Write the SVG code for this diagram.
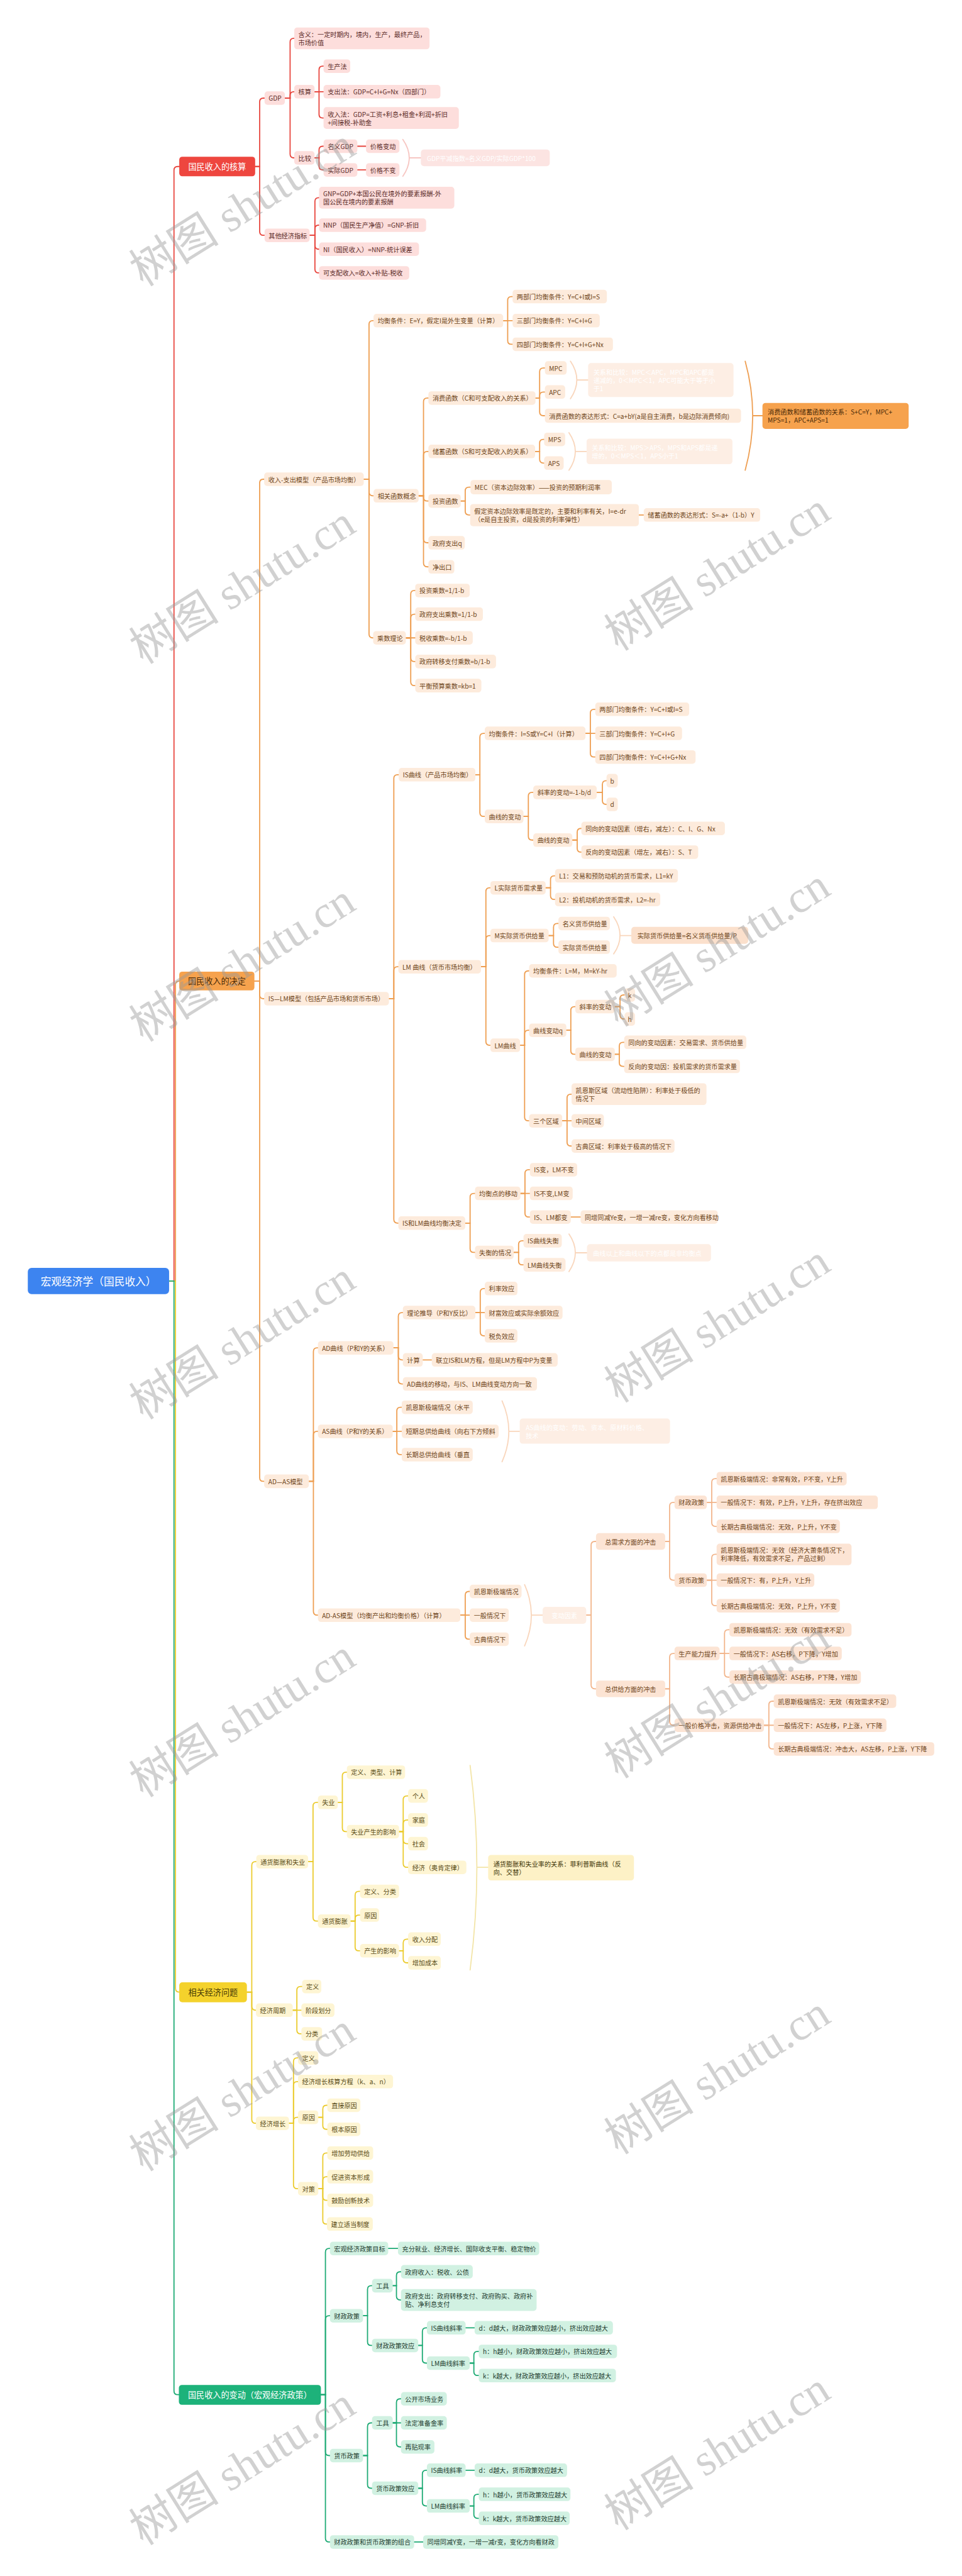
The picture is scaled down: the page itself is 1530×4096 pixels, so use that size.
<svg xmlns="http://www.w3.org/2000/svg" width="1530" height="4096" viewBox="0 0 1530 4096">
<style>
text{font-family:"Noto Sans CJK SC","Noto Sans",sans-serif;font-size:17px;dominant-baseline:central}
.c path{fill:none;stroke-width:3;stroke-linecap:round}
.lr{stroke:#E8463E}.lo{stroke:#EE9E51}.lo2{stroke:#F2B58B}.ly{stroke:#EBCB2E}.lg{stroke:#1DAA74}
.br{stroke:#F7C6C2}.bo{stroke:#F9D6BC}.by{stroke:#F3E5A8}
.r rect{fill:#FDDEDC}.r text{fill:#5B2B28}
.o rect{fill:#FDEBDC}.o text{fill:#6E4519}
.p rect{fill:#FCE4D4}.p text{fill:#6E4519}
.y rect{fill:#FEF5D3}.y text{fill:#5A4C16}
.g rect{fill:#D1F1E2}.g text{fill:#1E3D30}
.fr rect{fill:#FCE4E2}.fo rect{fill:#FDEEE4}.fr text,.fo text{fill:#fff}
.l1 text{font-size:22px}
.root text{font-size:28px;fill:#fff}
.wm text{font-family:"Liberation Serif","Noto Sans CJK SC",serif;font-size:120px;fill:#9a9a9a;opacity:.45}
</style>
<rect width="1530" height="4096" fill="#fff"/>
<g transform="scale(0.59766)">
<g id="connectors" class="c">
<path class="lr" d="M450 3408H463V453Q463 443 473 443H477"/>
<path class="lo" d="M450 3408H467V2620Q467 2610 477 2610"/>
<path class="ly" d="M450 3408H467V5290Q467 5300 477 5300"/>
<path class="lg" d="M450 3408H463V6361Q463 6371 473 6371H476"/>
<path class="lr" d="M679 443H691V271Q691 261 701 261H704"/>
<path class="lr" d="M679 443H691V616Q691 626 701 626H704"/>
<path class="lr" d="M758 261H772V112Q772 102 782 102H783"/>
<path class="lr" d="M758 261H772V254Q772 244 782 244H783"/>
<path class="lr" d="M758 261H772V410Q772 420 782 420H783"/>
<path class="lr" d="M837 244H849V186Q849 176 859 176H861"/>
<path class="lr" d="M837 244H861"/>
<path class="lr" d="M837 244H849V304Q849 314 859 314H861"/>
<path class="lr" d="M837 420H849V399Q849 389 859 389H861"/>
<path class="lr" d="M837 420H849V442Q849 452 859 452H861"/>
<path class="lr" d="M951 389H974"/>
<path class="lr" d="M951 452H974"/>
<path class="br" d="M1072 371Q1106 420 1072 469M1089 420H1120"/>
<path class="lr" d="M824 626H838V536Q838 526 848 526H849"/>
<path class="lr" d="M824 626H838V609Q838 599 848 599H849"/>
<path class="lr" d="M824 626H838V653Q838 663 848 663H849"/>
<path class="lr" d="M824 626H838V716Q838 726 848 726H849"/>
<path class="lo" d="M677 2610H691V1285Q691 1275 701 1275H703"/>
<path class="lo" d="M677 2610H691V2647Q691 2657 701 2657H703"/>
<path class="lo" d="M677 2610H691V3931Q691 3941 701 3941H703"/>
<path class="lo" d="M968 1275H982V863Q982 853 992 853H994"/>
<path class="lo" d="M968 1275H982V1309Q982 1319 992 1319H994"/>
<path class="lo" d="M968 1275H982V1687Q982 1697 992 1697H993"/>
<path class="lo" d="M1339 853H1351V799Q1351 789 1361 789H1364"/>
<path class="lo" d="M1339 853H1364"/>
<path class="lo" d="M1339 853H1351V906Q1351 916 1361 916H1364"/>
<path class="lo" d="M1114 1319H1127V1069Q1127 1059 1137 1059H1140"/>
<path class="lo" d="M1114 1319H1127V1211Q1127 1201 1137 1201H1140"/>
<path class="lo" d="M1114 1319H1127V1323Q1127 1333 1137 1333H1140"/>
<path class="lo" d="M1114 1319H1127V1434Q1127 1444 1137 1444H1140"/>
<path class="lo" d="M1114 1319H1127V1498Q1127 1508 1137 1508H1140"/>
<path class="lo" d="M1425 1059H1436V989Q1436 979 1446 979H1450"/>
<path class="lo" d="M1425 1059H1436V1053Q1436 1043 1446 1043H1450"/>
<path class="lo" d="M1425 1059H1436V1096Q1436 1106 1446 1106H1450"/>
<path class="bo" d="M1518 961Q1552 1011 1518 1061M1535 1011H1565"/>
<path class="lo" d="M1424 1201H1436V1179Q1436 1169 1446 1169H1448"/>
<path class="lo" d="M1424 1201H1436V1222Q1436 1232 1446 1232H1448"/>
<path class="bo" d="M1514 1151Q1548 1201 1514 1251M1531 1201H1561"/>
<path class="lo" d="M1983 961Q2023 1106 1983 1251M2003 1106H2029"/>
<path class="lo" d="M1226 1333H1238V1306Q1238 1296 1248 1296H1252"/>
<path class="lo" d="M1226 1333H1238V1360Q1238 1370 1248 1370H1251"/>
<path class="lo" d="M1700 1370H1713"/>
<path class="lo" d="M1080 1697H1093V1581Q1093 1571 1103 1571H1105"/>
<path class="lo" d="M1080 1697H1093V1644Q1093 1634 1103 1634H1105"/>
<path class="lo" d="M1080 1697H1105"/>
<path class="lo" d="M1080 1697H1093V1750Q1093 1760 1103 1760H1105"/>
<path class="lo" d="M1080 1697H1093V1814Q1093 1824 1103 1824H1105"/>
<path class="lo" d="M1035 2657H1048V2071Q1048 2061 1058 2061H1061"/>
<path class="lo" d="M1035 2657H1048V2582Q1048 2572 1058 2572H1060"/>
<path class="lo" d="M1035 2657H1048V3244Q1048 3254 1058 3254H1060"/>
<path class="lo" d="M1265 2061H1277V1961Q1277 1951 1287 1951H1290"/>
<path class="lo" d="M1265 2061H1277V2162Q1277 2172 1287 2172H1290"/>
<path class="lo" d="M1558 1951H1571V1897Q1571 1887 1581 1887H1584"/>
<path class="lo" d="M1558 1951H1584"/>
<path class="lo" d="M1558 1951H1571V2004Q1571 2014 1581 2014H1584"/>
<path class="lo" d="M1393 2172H1406V2118Q1406 2108 1416 2108H1419"/>
<path class="lo" d="M1393 2172H1406V2225Q1406 2235 1416 2235H1419"/>
<path class="lo" d="M1588 2108H1603V2087Q1603 2077 1613 2077H1614"/>
<path class="lo" d="M1588 2108H1603V2130Q1603 2140 1613 2140H1614"/>
<path class="lo" d="M1523 2235H1536V2214Q1536 2204 1546 2204H1547"/>
<path class="lo" d="M1523 2235H1536V2257Q1536 2267 1546 2267H1547"/>
<path class="lo" d="M1280 2572H1293V2372Q1293 2362 1303 2362H1305"/>
<path class="lo" d="M1280 2572H1293V2499Q1293 2489 1303 2489H1305"/>
<path class="lo" d="M1280 2572H1293V2771Q1293 2781 1303 2781H1305"/>
<path class="lo" d="M1452 2362H1465V2340Q1465 2330 1475 2330H1477"/>
<path class="lo" d="M1452 2362H1465V2383Q1465 2393 1475 2393H1477"/>
<path class="lo" d="M1460 2489H1473V2467Q1473 2457 1483 2457H1486"/>
<path class="lo" d="M1460 2489H1473V2510Q1473 2520 1483 2520H1486"/>
<path class="bo" d="M1633 2439Q1667 2489 1633 2538M1650 2489H1680"/>
<path class="lo" d="M1384 2781H1396V2593Q1396 2583 1406 2583H1408"/>
<path class="lo" d="M1384 2781H1396V2751Q1396 2741 1406 2741H1408"/>
<path class="lo" d="M1384 2781H1396V2972Q1396 2982 1406 2982H1408"/>
<path class="lo" d="M1507 2741H1519V2688Q1519 2678 1529 2678H1531"/>
<path class="lo" d="M1507 2741H1519V2795Q1519 2805 1529 2805H1531"/>
<path class="lo" d="M1636 2678H1650V2657Q1650 2647 1660 2647H1662"/>
<path class="lo" d="M1636 2678H1650V2701Q1650 2711 1660 2711H1662"/>
<path class="lo" d="M1636 2805H1648V2783Q1648 2773 1658 2773H1661"/>
<path class="lo" d="M1636 2805H1648V2827Q1648 2837 1658 2837H1661"/>
<path class="lo" d="M1496 2982H1509V2921Q1509 2911 1519 2911H1521"/>
<path class="lo" d="M1496 2982H1521"/>
<path class="lo" d="M1496 2982H1509V3039Q1509 3049 1519 3049H1521"/>
<path class="lo" d="M1238 3254H1251V3185Q1251 3175 1261 3175H1264"/>
<path class="lo" d="M1238 3254H1251V3322Q1251 3332 1261 3332H1264"/>
<path class="lo" d="M1385 3175H1397V3122Q1397 3112 1407 3112H1410"/>
<path class="lo" d="M1385 3175H1410"/>
<path class="lo" d="M1385 3175H1397V3228Q1397 3238 1407 3238H1410"/>
<path class="lo" d="M1519 3238H1545"/>
<path class="lo" d="M1367 3332H1380V3311Q1380 3301 1390 3301H1393"/>
<path class="lo" d="M1367 3332H1380V3355Q1380 3365 1390 3365H1393"/>
<path class="bo" d="M1514 3283Q1548 3333 1514 3383M1531 3333H1562"/>
<path class="lo" d="M822 3941H834V3596Q834 3586 844 3586H846"/>
<path class="lo" d="M822 3941H834V3818Q834 3808 844 3808H846"/>
<path class="lo" d="M822 3941H834V4287Q834 4297 844 4297H846"/>
<path class="lo" d="M1047 3586H1060V3502Q1060 3492 1070 3492H1072"/>
<path class="lo" d="M1047 3586H1060V3608Q1060 3618 1070 3618H1072"/>
<path class="lo" d="M1047 3586H1060V3672Q1060 3682 1070 3682H1072"/>
<path class="lo" d="M1265 3492H1278V3438Q1278 3428 1288 3428H1290"/>
<path class="lo" d="M1265 3492H1290"/>
<path class="lo" d="M1265 3492H1278V3544Q1278 3554 1288 3554H1290"/>
<path class="lo" d="M1125 3618H1149"/>
<path class="lo" d="M1045 3808H1056V3754Q1056 3744 1066 3744H1069"/>
<path class="lo" d="M1045 3808H1069"/>
<path class="lo" d="M1045 3808H1056V3860Q1056 3870 1066 3870H1069"/>
<path class="bo" d="M1336 3727Q1372 3808 1336 3889M1354 3808H1383"/>
<path class="lo" d="M1225 4297H1238V4244Q1238 4234 1248 4234H1250"/>
<path class="lo" d="M1225 4297H1250"/>
<path class="lo" d="M1225 4297H1238V4351Q1238 4361 1248 4361H1250"/>
<path class="bo" d="M1396 4216Q1432 4297 1396 4379M1414 4297H1444"/>
<path class="lo2" d="M1560 4297H1573V4111Q1573 4101 1583 4101H1586"/>
<path class="lo2" d="M1560 4297H1573V4483Q1573 4493 1583 4493H1586"/>
<path class="lo2" d="M1770 4101H1782V4007Q1782 3997 1792 3997H1795"/>
<path class="lo2" d="M1770 4101H1782V4194Q1782 4204 1792 4204H1795"/>
<path class="lo2" d="M1881 3997H1894V3944Q1894 3934 1904 3934H1907"/>
<path class="lo2" d="M1881 3997H1907"/>
<path class="lo2" d="M1881 3997H1894V4051Q1894 4061 1904 4061H1907"/>
<path class="lo2" d="M1881 4204H1894V4145Q1894 4135 1904 4135H1907"/>
<path class="lo2" d="M1881 4204H1907"/>
<path class="lo2" d="M1881 4204H1894V4262Q1894 4272 1904 4272H1907"/>
<path class="lo2" d="M1770 4493H1782V4409Q1782 4399 1792 4399H1795"/>
<path class="lo2" d="M1770 4493H1782V4580Q1782 4590 1792 4590H1795"/>
<path class="lo2" d="M1915 4399H1928V4346Q1928 4336 1938 4336H1941"/>
<path class="lo2" d="M1915 4399H1941"/>
<path class="lo2" d="M1915 4399H1928V4452Q1928 4462 1938 4462H1941"/>
<path class="lo2" d="M2033 4590H2046V4536Q2046 4526 2056 4526H2059"/>
<path class="lo2" d="M2033 4590H2059"/>
<path class="lo2" d="M2033 4590H2046V4643Q2046 4653 2056 4653H2059"/>
<path class="ly" d="M657 5300H670V4963Q670 4953 680 4953H682"/>
<path class="ly" d="M657 5300H670V5338Q670 5348 680 5348H681"/>
<path class="ly" d="M657 5300H670V5639Q670 5649 680 5649H681"/>
<path class="ly" d="M820 4953H833V4805Q833 4795 843 4795H846"/>
<path class="ly" d="M820 4953H833V5101Q833 5111 843 5111H846"/>
<path class="ly" d="M899 4795H911V4725Q911 4715 921 4715H923"/>
<path class="ly" d="M899 4795H911V4863Q911 4873 921 4873H923"/>
<path class="ly" d="M1062 4873H1073V4788Q1073 4778 1083 4778H1086"/>
<path class="ly" d="M1062 4873H1073V4852Q1073 4842 1083 4842H1086"/>
<path class="ly" d="M1062 4873H1073V4895Q1073 4905 1083 4905H1086"/>
<path class="ly" d="M1062 4873H1073V4958Q1073 4968 1083 4968H1086"/>
<path class="ly" d="M933 5111H945V5042Q945 5032 955 5032H958"/>
<path class="ly" d="M933 5111H945V5105Q945 5095 955 5095H958"/>
<path class="ly" d="M933 5111H945V5180Q945 5190 955 5190H958"/>
<path class="ly" d="M1062 5190H1073V5169Q1073 5159 1083 5159H1086"/>
<path class="ly" d="M1062 5190H1073V5212Q1073 5222 1083 5222H1086"/>
<path class="by" d="M1251 4697Q1287 4968 1251 5241M1269 4968H1299"/>
<path class="ly" d="M779 5348H790V5295Q790 5285 800 5285H804"/>
<path class="ly" d="M779 5348H802"/>
<path class="ly" d="M779 5348H790V5401Q790 5411 800 5411H802"/>
<path class="ly" d="M769 5649H781V5485Q781 5475 791 5475H793"/>
<path class="ly" d="M769 5649H781V5548Q781 5538 791 5538H793"/>
<path class="ly" d="M769 5649H781V5643Q781 5633 791 5633H793"/>
<path class="ly" d="M769 5649H781V5813Q781 5823 791 5823H793"/>
<path class="ly" d="M847 5633H859V5611Q859 5601 869 5601H871"/>
<path class="ly" d="M847 5633H859V5655Q859 5665 869 5665H871"/>
<path class="ly" d="M847 5823H859V5738Q859 5728 869 5728H871"/>
<path class="ly" d="M847 5823H859V5801Q859 5791 869 5791H871"/>
<path class="ly" d="M847 5823H859V5844Q859 5854 869 5854H871"/>
<path class="ly" d="M847 5823H859V5907Q859 5917 869 5917H870"/>
<path class="lg" d="M854 6371H866V5992Q866 5982 876 5982H878"/>
<path class="lg" d="M854 6371H866V6171Q866 6161 876 6161H878"/>
<path class="lg" d="M854 6371H866V6523Q866 6533 876 6533H878"/>
<path class="lg" d="M854 6371H866V6753Q866 6763 876 6763H878"/>
<path class="lg" d="M1033 5982H1059"/>
<path class="lg" d="M966 6161H978V6091Q978 6081 988 6081H990"/>
<path class="lg" d="M966 6161H978V6230Q978 6240 988 6240H990"/>
<path class="lg" d="M1045 6081H1055V6054Q1055 6044 1065 6044H1067"/>
<path class="lg" d="M1045 6081H1055V6109Q1055 6119 1065 6119H1067"/>
<path class="lg" d="M1113 6240H1124V6203Q1124 6193 1134 6193H1136"/>
<path class="lg" d="M1113 6240H1124V6277Q1124 6287 1134 6287H1136"/>
<path class="lg" d="M1239 6193H1263"/>
<path class="lg" d="M1250 6287H1261V6266Q1261 6256 1271 6256H1274"/>
<path class="lg" d="M1250 6287H1261V6310Q1261 6320 1271 6320H1274"/>
<path class="lg" d="M966 6533H978V6456Q978 6446 988 6446H990"/>
<path class="lg" d="M966 6533H978V6610Q978 6620 988 6620H990"/>
<path class="lg" d="M1045 6446H1055V6392Q1055 6382 1065 6382H1067"/>
<path class="lg" d="M1045 6446H1067"/>
<path class="lg" d="M1045 6446H1055V6500Q1055 6510 1065 6510H1067"/>
<path class="lg" d="M1113 6620H1124V6582Q1124 6572 1134 6572H1136"/>
<path class="lg" d="M1113 6620H1124V6657Q1124 6667 1134 6667H1136"/>
<path class="lg" d="M1239 6572H1263"/>
<path class="lg" d="M1250 6667H1261V6646Q1261 6636 1271 6636H1274"/>
<path class="lg" d="M1250 6667H1261V6690Q1261 6700 1271 6700H1274"/>
<path class="lg" d="M1102 6763H1126"/>
</g>

<g id="n-root" class="root"><rect x="74" y="3373" width="376" height="70" rx="10" fill="#3D84F0"/><text x="262" y="3408" text-anchor="middle">宏观经济学（国民收入）</text></g>

<g id="n-s1" class="l1"><rect x="477" y="417" width="202" height="52" rx="8" fill="#EE463F"/><text x="578" y="443" text-anchor="middle" fill="#fff">国民收入的核算</text></g>
<g id="n-gdp" class="r"><rect x="704" y="243" width="54" height="36" rx="8"/><text x="715" y="261">GDP</text></g>
<g id="n-other" class="r"><rect x="704" y="608" width="120" height="36" rx="8"/><text x="715" y="626">其他经济指标</text></g>
<g id="n-hanyi" class="r"><rect x="783" y="73" width="360" height="58" rx="8"/><text x="794" y="91">含义：一定时期内，境内，生产，最终产品，</text><text x="794" y="113">市场价值</text></g>
<g id="n-hesuan" class="r"><rect x="783" y="226" width="54" height="36" rx="8"/><text x="794" y="244">核算</text></g>
<g id="n-bijiao" class="r"><rect x="783" y="402" width="54" height="36" rx="8"/><text x="794" y="420">比较</text></g>
<g id="n-scf" class="r"><rect x="861" y="158" width="71" height="36" rx="8"/><text x="872" y="176">生产法</text></g>
<g id="n-zcf" class="r"><rect x="861" y="226" width="311" height="36" rx="8"/><text x="872" y="244">支出法：GDP=C+I+G=Nx（四部门）</text></g>
<g id="n-srf" class="r"><rect x="861" y="285" width="360" height="58" rx="8"/><text x="872" y="303">收入法：GDP=工资+利息+租金+利润+折旧</text><text x="872" y="325">+间接税-补助金</text></g>
<g id="n-mygdp" class="r"><rect x="861" y="371" width="90" height="36" rx="8"/><text x="872" y="389">名义GDP</text></g>
<g id="n-sjgdp" class="r"><rect x="861" y="434" width="90" height="36" rx="8"/><text x="872" y="452">实际GDP</text></g>
<g id="n-jgbd" class="r"><rect x="974" y="371" width="89" height="36" rx="8"/><text x="985" y="389">价格变动</text></g>
<g id="n-jgbb" class="r"><rect x="974" y="434" width="89" height="36" rx="8"/><text x="985" y="452">价格不变</text></g>
<g id="n-gdppj" class="fr"><rect x="1120" y="398" width="343" height="44" rx="8"/><text x="1136" y="420">GDP平减指数=名义GDP/实际GDP*100</text></g>
<g id="n-gnp" class="r"><rect x="849" y="497" width="360" height="58" rx="8"/><text x="860" y="515">GNP=GDP+本国公民在境外的要素报酬-外</text><text x="860" y="537">国公民在境内的要素报酬</text></g>
<g id="n-nnp" class="r"><rect x="849" y="581" width="285" height="36" rx="8"/><text x="860" y="599">NNP（国民生产净值）=GNP-折旧</text></g>
<g id="n-ni" class="r"><rect x="849" y="645" width="266" height="36" rx="8"/><text x="860" y="663">NI（国民收入）=NNP-统计误差</text></g>
<g id="n-kzp" class="r"><rect x="849" y="708" width="240" height="36" rx="8"/><text x="860" y="726">可支配收入=收入+补贴-税收</text></g>

<g id="n-s2" class="l1"><rect x="477" y="2585" width="200" height="50" rx="8" fill="#F6A24D"/><text x="577" y="2610" text-anchor="middle" fill="#4A2A08">国民收入的决定</text></g>
<g id="n-srzc" class="o"><rect x="703" y="1257" width="265" height="36" rx="8"/><text x="714" y="1275">收入-支出模型（产品市场均衡）</text></g>
<g id="n-islm" class="o"><rect x="703" y="2639" width="332" height="36" rx="8"/><text x="714" y="2657">IS—LM模型（包括产品市场和货币市场）</text></g>
<g id="n-adas" class="o"><rect x="703" y="3923" width="119" height="36" rx="8"/><text x="714" y="3941">AD—AS模型</text></g>
<g id="n-jhtj" class="o"><rect x="994" y="835" width="345" height="36" rx="8"/><text x="1005" y="853">均衡条件：E=Y，假定I是外生变量（计算）</text></g>
<g id="n-xghs" class="o"><rect x="994" y="1301" width="120" height="36" rx="8"/><text x="1005" y="1319">相关函数概念</text></g>
<g id="n-csll" class="o"><rect x="993" y="1679" width="87" height="36" rx="8"/><text x="1004" y="1697">乘数理论</text></g>
<g id="n-lbm" class="o"><rect x="1364" y="771" width="251" height="36" rx="8"/><text x="1375" y="789">两部门均衡条件：Y=C+I或I=S</text></g>
<g id="n-sbm" class="o"><rect x="1364" y="835" width="232" height="36" rx="8"/><text x="1375" y="853">三部门均衡条件：Y=C+I+G</text></g>
<g id="n-sibm" class="o"><rect x="1364" y="898" width="267" height="36" rx="8"/><text x="1375" y="916">四部门均衡条件：Y=C+I+G+Nx</text></g>
<g id="n-xfhs" class="o"><rect x="1140" y="1041" width="285" height="36" rx="8"/><text x="1151" y="1059">消费函数（C和可支配收入的关系）</text></g>
<g id="n-cxhs" class="o"><rect x="1140" y="1183" width="284" height="36" rx="8"/><text x="1151" y="1201">储蓄函数（S和可支配收入的关系）</text></g>
<g id="n-tzhs" class="o"><rect x="1140" y="1315" width="86" height="36" rx="8"/><text x="1151" y="1333">投资函数</text></g>
<g id="n-zfzc" class="o"><rect x="1140" y="1426" width="97" height="36" rx="8"/><text x="1151" y="1444">政府支出q</text></g>
<g id="n-jck" class="o"><rect x="1140" y="1490" width="69" height="36" rx="8"/><text x="1151" y="1508">净出口</text></g>
<g id="n-mpc" class="o"><rect x="1450" y="961" width="58" height="36" rx="8"/><text x="1479" y="979" text-anchor="middle">MPC</text></g>
<g id="n-apc" class="o"><rect x="1450" y="1025" width="54" height="36" rx="8"/><text x="1477" y="1043" text-anchor="middle">APC</text></g>
<g id="n-xfbd" class="o"><rect x="1450" y="1087" width="522" height="38" rx="8"/><text x="1461" y="1106">消费函数的表达形式：C=a+bY(a是自主消费，b是边际消费倾向)</text></g>
<g id="n-gx1" class="fo"><rect x="1565" y="966" width="387" height="90" rx="8"/><text x="1579" y="989">关系和比较：MPC＜APC，MPC和APC都是</text><text x="1579" y="1011">递减的，0＜MPC＜1，APC可能大于等于小</text><text x="1579" y="1033">于1</text></g>
<g id="n-mps" class="o"><rect x="1448" y="1151" width="56" height="36" rx="8"/><text x="1476" y="1169" text-anchor="middle">MPS</text></g>
<g id="n-aps" class="o"><rect x="1448" y="1214" width="52" height="36" rx="8"/><text x="1474" y="1232" text-anchor="middle">APS</text></g>
<g id="n-gx2" class="fo"><rect x="1561" y="1167" width="388" height="68" rx="8"/><text x="1575" y="1190">关系和比较：MPS＞APS，MPS和APS都是递</text><text x="1575" y="1212">增的，0＜MPS＜1，APS小于1</text></g>
<g id="n-xfcx"><rect x="2029" y="1072" width="389" height="69" rx="8" fill="#F6A24D"/><text x="2043" y="1095" fill="#4A2A08">消费函数和储蓄函数的关系：S+C=Y，MPC+</text><text x="2043" y="1117" fill="#4A2A08">MPS=1，APC+APS=1</text></g>
<g id="n-mec" class="o"><rect x="1252" y="1277" width="376" height="38" rx="8"/><text x="1263" y="1296">MEC（资本边际效率）——投资的预期利润率</text></g>
<g id="n-jdzb" class="o"><rect x="1251" y="1341" width="449" height="59" rx="8"/><text x="1262" y="1359">假定资本边际效率是既定的，主要和利率有关，I=e-dr</text><text x="1262" y="1381">（e是自主投资，d是投资的利率弹性）</text></g>
<g id="n-cxbd" class="o"><rect x="1713" y="1352" width="310" height="36" rx="8"/><text x="1724" y="1370">储蓄函数的表达形式：S=-a+（1-b）Y</text></g>
<g id="n-tzcs" class="o"><rect x="1105" y="1553" width="145" height="36" rx="8"/><text x="1116" y="1571">投资乘数=1/1-b</text></g>
<g id="n-zfcs" class="o"><rect x="1105" y="1616" width="180" height="36" rx="8"/><text x="1116" y="1634">政府支出乘数=1/1-b</text></g>
<g id="n-sscs" class="o"><rect x="1105" y="1679" width="153" height="36" rx="8"/><text x="1116" y="1697">税收乘数=-b/1-b</text></g>
<g id="n-zyzf" class="o"><rect x="1105" y="1742" width="215" height="36" rx="8"/><text x="1116" y="1760">政府转移支付乘数=b/1-b</text></g>
<g id="n-phys" class="o"><rect x="1105" y="1806" width="176" height="36" rx="8"/><text x="1116" y="1824">平衡预算乘数=kb=1</text></g>
<g id="n-isqx" class="o"><rect x="1061" y="2043" width="204" height="36" rx="8"/><text x="1072" y="2061">IS曲线（产品市场均衡）</text></g>
<g id="n-isjh" class="o"><rect x="1290" y="1933" width="268" height="36" rx="8"/><text x="1301" y="1951">均衡条件：I=S或Y=C+I（计算）</text></g>
<g id="n-isbd" class="o"><rect x="1290" y="2154" width="103" height="36" rx="8"/><text x="1301" y="2172">曲线的变动</text></g>
<g id="n-is2" class="o"><rect x="1584" y="1869" width="250" height="36" rx="8"/><text x="1595" y="1887">两部门均衡条件：Y=C+I或I=S</text></g>
<g id="n-is3" class="o"><rect x="1584" y="1933" width="231" height="36" rx="8"/><text x="1595" y="1951">三部门均衡条件：Y=C+I+G</text></g>
<g id="n-is4" class="o"><rect x="1584" y="1996" width="267" height="36" rx="8"/><text x="1595" y="2014">四部门均衡条件：Y=C+I+G+Nx</text></g>
<g id="n-isxl" class="o"><rect x="1419" y="2090" width="169" height="36" rx="8"/><text x="1430" y="2108">斜率的变动=-1-b/d</text></g>
<g id="n-isbd2" class="o"><rect x="1419" y="2217" width="104" height="36" rx="8"/><text x="1430" y="2235">曲线的变动</text></g>
<g id="n-b" class="o"><rect x="1614" y="2059" width="30" height="36" rx="8"/><text x="1629" y="2077" text-anchor="middle">b</text></g>
<g id="n-d" class="o"><rect x="1614" y="2122" width="30" height="36" rx="8"/><text x="1629" y="2140" text-anchor="middle">d</text></g>
<g id="n-isty" class="o"><rect x="1547" y="2186" width="382" height="36" rx="8"/><text x="1558" y="2204">同向的变动因素（增右，减左）：C、I、G、Nx</text></g>
<g id="n-isfx" class="o"><rect x="1547" y="2249" width="311" height="36" rx="8"/><text x="1558" y="2267">反向的变动因素（增左，减右）：S、T</text></g>
<g id="n-lmqx" class="o"><rect x="1060" y="2554" width="220" height="36" rx="8"/><text x="1071" y="2572">LM 曲线（货币市场均衡）</text></g>
<g id="n-lsj" class="o"><rect x="1305" y="2344" width="147" height="36" rx="8"/><text x="1316" y="2362">L实际货币需求量</text></g>
<g id="n-msj" class="o"><rect x="1305" y="2471" width="155" height="36" rx="8"/><text x="1316" y="2489">M实际货币供给量</text></g>
<g id="n-lmqx2" class="o"><rect x="1305" y="2763" width="79" height="36" rx="8"/><text x="1316" y="2781">LM曲线</text></g>
<g id="n-l1" class="o"><rect x="1477" y="2312" width="327" height="36" rx="8"/><text x="1488" y="2330">L1：交易和预防动机的货币需求，L1=kY</text></g>
<g id="n-l2" class="o"><rect x="1477" y="2375" width="280" height="36" rx="8"/><text x="1488" y="2393">L2：投机动机的货币需求，L2=-hr</text></g>
<g id="n-mygy" class="o"><rect x="1486" y="2439" width="137" height="36" rx="8"/><text x="1497" y="2457">名义货币供给量</text></g>
<g id="n-sjgy" class="o"><rect x="1486" y="2502" width="137" height="36" rx="8"/><text x="1497" y="2520">实际货币供给量</text></g>
<g id="n-sjgyl"><rect x="1680" y="2466" width="311" height="45" rx="8" fill="#FBE0CC"/><text x="1696" y="2489" fill="#6E4519">实际货币供给量=名义货币供给量/P</text></g>
<g id="n-lmjh" class="o"><rect x="1408" y="2565" width="233" height="36" rx="8"/><text x="1419" y="2583">均衡条件：L=M，M=kY-hr</text></g>
<g id="n-lmbd" class="o"><rect x="1408" y="2723" width="99" height="36" rx="8"/><text x="1419" y="2741">曲线变动q</text></g>
<g id="n-sgqy" class="o"><rect x="1408" y="2964" width="88" height="36" rx="8"/><text x="1419" y="2982">三个区域</text></g>
<g id="n-lmxl" class="o"><rect x="1531" y="2660" width="105" height="36" rx="8"/><text x="1542" y="2678">斜率的变动</text></g>
<g id="n-lmbd2" class="o"><rect x="1531" y="2787" width="105" height="36" rx="8"/><text x="1542" y="2805">曲线的变动</text></g>
<g id="n-k" class="o"><rect x="1662" y="2629" width="28" height="36" rx="8"/><text x="1676" y="2647" text-anchor="middle">k</text></g>
<g id="n-h" class="o"><rect x="1662" y="2693" width="28" height="36" rx="8"/><text x="1676" y="2711" text-anchor="middle">h</text></g>
<g id="n-lmty" class="o"><rect x="1661" y="2755" width="325" height="36" rx="8"/><text x="1672" y="2773">同向的变动因素：交易需求、货币供给量</text></g>
<g id="n-lmfx" class="o"><rect x="1661" y="2819" width="308" height="36" rx="8"/><text x="1672" y="2837">反向的变动因：投机需求的货币需求量</text></g>
<g id="n-kes" class="o"><rect x="1521" y="2882" width="359" height="58" rx="8"/><text x="1532" y="2900">凯恩斯区域（流动性陷阱）：利率处于极低的</text><text x="1532" y="2922">情况下</text></g>
<g id="n-zjqy" class="o"><rect x="1521" y="2964" width="86" height="36" rx="8"/><text x="1532" y="2982">中间区域</text></g>
<g id="n-gdqy" class="o"><rect x="1521" y="3031" width="274" height="36" rx="8"/><text x="1532" y="3049">古典区域：利率处于极高的情况下</text></g>
<g id="n-islmjh" class="o"><rect x="1060" y="3236" width="178" height="36" rx="8"/><text x="1071" y="3254">IS和LM曲线均衡决定</text></g>
<g id="n-jhyd" class="o"><rect x="1264" y="3157" width="121" height="36" rx="8"/><text x="1275" y="3175">均衡点的移动</text></g>
<g id="n-shqk" class="o"><rect x="1264" y="3314" width="103" height="36" rx="8"/><text x="1275" y="3332">失衡的情况</text></g>
<g id="n-isb" class="o"><rect x="1410" y="3094" width="126" height="36" rx="8"/><text x="1421" y="3112">IS变，LM不变</text></g>
<g id="n-isbb" class="o"><rect x="1410" y="3157" width="114" height="36" rx="8"/><text x="1421" y="3175">IS不变,LM变</text></g>
<g id="n-isdb" class="o"><rect x="1410" y="3220" width="109" height="36" rx="8"/><text x="1421" y="3238">IS、LM都变</text></g>
<g id="n-tztj" class="o"><rect x="1545" y="3220" width="365" height="36" rx="8"/><text x="1556" y="3238">同增同减Ye变，一增一减re变，变化方向看移动</text></g>
<g id="n-isss" class="o"><rect x="1393" y="3283" width="102" height="36" rx="8"/><text x="1404" y="3301">IS曲线失衡</text></g>
<g id="n-lmss" class="o"><rect x="1393" y="3347" width="112" height="36" rx="8"/><text x="1404" y="3365">LM曲线失衡</text></g>
<g id="n-qxys" class="fo"><rect x="1562" y="3310" width="330" height="46" rx="8"/><text x="1578" y="3333">曲线以上和曲线以下的点都是非均衡点</text></g>
<g id="n-adqx" class="o"><rect x="846" y="3568" width="201" height="36" rx="8"/><text x="857" y="3586">AD曲线（P和Y的关系）</text></g>
<g id="n-lltd" class="o"><rect x="1072" y="3474" width="193" height="36" rx="8"/><text x="1083" y="3492">理论推导（P和Y反比）</text></g>
<g id="n-js" class="o"><rect x="1072" y="3600" width="53" height="36" rx="8"/><text x="1083" y="3618">计算</text></g>
<g id="n-adyd" class="o"><rect x="1072" y="3664" width="357" height="36" rx="8"/><text x="1083" y="3682">AD曲线的移动，与IS、LM曲线变动方向一致</text></g>
<g id="n-llxy" class="o"><rect x="1290" y="3410" width="87" height="36" rx="8"/><text x="1301" y="3428">利率效应</text></g>
<g id="n-cfxy" class="o"><rect x="1290" y="3474" width="207" height="36" rx="8"/><text x="1301" y="3492">财富效应或实际余额效应</text></g>
<g id="n-sfxy" class="o"><rect x="1290" y="3536" width="87" height="36" rx="8"/><text x="1301" y="3554">税负效应</text></g>
<g id="n-lldj" class="o"><rect x="1149" y="3600" width="335" height="36" rx="8"/><text x="1160" y="3618">联立IS和LM方程，但是LM方程中P为变量</text></g>
<g id="n-asqx" class="o"><rect x="846" y="3790" width="199" height="36" rx="8"/><text x="857" y="3808">AS曲线（P和Y的关系）</text></g>
<g id="n-kesjd" class="o"><rect x="1069" y="3726" width="189" height="36" rx="8"/><text x="1080" y="3744">凯恩斯极端情况（水平</text></g>
<g id="n-dqzgj" class="o"><rect x="1069" y="3790" width="258" height="36" rx="8"/><text x="1080" y="3808">短期总供给曲线（向右下方倾斜</text></g>
<g id="n-cqzgj" class="o"><rect x="1069" y="3852" width="189" height="36" rx="8"/><text x="1080" y="3870">长期总供给曲线（垂直</text></g>
<g id="n-asbd" class="fo"><rect x="1383" y="3774" width="400" height="67" rx="8"/><text x="1399" y="3797">AS曲线的变动：劳动、资本、原材料价格、</text><text x="1399" y="3819">技术</text></g>
<g id="n-adasmx" class="o"><rect x="846" y="4279" width="379" height="36" rx="8"/><text x="857" y="4297">AD-AS模型（均衡产出和均衡价格）（计算）</text></g>
<g id="n-kesjd2" class="o"><rect x="1250" y="4216" width="138" height="36" rx="8"/><text x="1261" y="4234">凯恩斯极端情况</text></g>
<g id="n-ybqk" class="o"><rect x="1250" y="4279" width="104" height="36" rx="8"/><text x="1261" y="4297">一般情况下</text></g>
<g id="n-gdqk" class="o"><rect x="1250" y="4343" width="104" height="36" rx="8"/><text x="1261" y="4361">古典情况下</text></g>
<g id="n-bdys" class="fo"><rect x="1444" y="4275" width="116" height="45" rx="8"/><text x="1502" y="4297" text-anchor="middle">变动因素</text></g>
<g id="n-zxq" class="p"><rect x="1586" y="4079" width="184" height="44" rx="8"/><text x="1678" y="4101" text-anchor="middle">总需求方面的冲击</text></g>
<g id="n-zgj" class="p"><rect x="1586" y="4471" width="184" height="44" rx="8"/><text x="1678" y="4493" text-anchor="middle">总供给方面的冲击</text></g>
<g id="n-czzc" class="p"><rect x="1795" y="3979" width="86" height="36" rx="8"/><text x="1806" y="3997">财政政策</text></g>
<g id="n-hbzc" class="p"><rect x="1795" y="4186" width="86" height="36" rx="8"/><text x="1806" y="4204">货币政策</text></g>
<g id="n-c1" class="p"><rect x="1907" y="3916" width="346" height="36" rx="8"/><text x="1918" y="3934">凯恩斯极端情况：非常有效，P不变，Y上升</text></g>
<g id="n-c2" class="p"><rect x="1907" y="3979" width="429" height="36" rx="8"/><text x="1918" y="3997">一般情况下：有效，P上升，Y上升，存在挤出效应</text></g>
<g id="n-c3" class="p"><rect x="1907" y="4043" width="328" height="36" rx="8"/><text x="1918" y="4061">长期古典极端情况：无效，P上升，Y不变</text></g>
<g id="n-h1" class="p"><rect x="1907" y="4107" width="359" height="57" rx="8"/><text x="1918" y="4124">凯恩斯极端情况：无效（经济大萧条情况下，</text><text x="1918" y="4146">利率降低，有效需求不足，产品过剩）</text></g>
<g id="n-h2" class="p"><rect x="1907" y="4186" width="260" height="36" rx="8"/><text x="1918" y="4204">一般情况下：有，P上升，Y上升</text></g>
<g id="n-h3" class="p"><rect x="1907" y="4254" width="328" height="36" rx="8"/><text x="1918" y="4272">长期古典极端情况：无效，P上升，Y不变</text></g>
<g id="n-scnl" class="p"><rect x="1795" y="4381" width="120" height="36" rx="8"/><text x="1806" y="4399">生产能力提升</text></g>
<g id="n-ybjg" class="p"><rect x="1795" y="4572" width="238" height="36" rx="8"/><text x="1806" y="4590">一般价格冲击，资源供给冲击</text></g>
<g id="n-s1c" class="p"><rect x="1941" y="4318" width="325" height="36" rx="8"/><text x="1952" y="4336">凯恩斯极端情况：无效（有效需求不足）</text></g>
<g id="n-s2c" class="p"><rect x="1941" y="4381" width="299" height="36" rx="8"/><text x="1952" y="4399">一般情况下：AS右移，P下降，Y增加</text></g>
<g id="n-s3c" class="p"><rect x="1941" y="4444" width="350" height="36" rx="8"/><text x="1952" y="4462">长期古典极端情况：AS右移，P下降，Y增加</text></g>
<g id="n-y1" class="p"><rect x="2059" y="4508" width="326" height="36" rx="8"/><text x="2070" y="4526">凯恩斯极端情况：无效（有效需求不足）</text></g>
<g id="n-y2" class="p"><rect x="2059" y="4572" width="300" height="36" rx="8"/><text x="2070" y="4590">一般情况下：AS左移，P上涨，Y下降</text></g>
<g id="n-y3" class="p"><rect x="2059" y="4635" width="427" height="36" rx="8"/><text x="2070" y="4653">长期古典极端情况：冲击大，AS左移，P上涨，Y下降</text></g>

<g id="n-s3" class="l1"><rect x="477" y="5274" width="180" height="53" rx="8" fill="#F4D22C"/><text x="567" y="5300" text-anchor="middle" fill="#4A3D06">相关经济问题</text></g>
<g id="n-thpz" class="y"><rect x="682" y="4935" width="138" height="36" rx="8"/><text x="693" y="4953">通货膨胀和失业</text></g>
<g id="n-jjzq" class="y"><rect x="681" y="5330" width="98" height="36" rx="8"/><text x="692" y="5348">经济周期</text></g>
<g id="n-jjzz" class="y"><rect x="681" y="5631" width="88" height="36" rx="8"/><text x="692" y="5649">经济增长</text></g>
<g id="n-sy" class="y"><rect x="846" y="4777" width="53" height="36" rx="8"/><text x="857" y="4795">失业</text></g>
<g id="n-thpz2" class="y"><rect x="846" y="5093" width="87" height="36" rx="8"/><text x="857" y="5111">通货膨胀</text></g>
<g id="n-dylx" class="y"><rect x="923" y="4697" width="155" height="36" rx="8"/><text x="934" y="4715">定义、类型、计算</text></g>
<g id="n-syyx" class="y"><rect x="923" y="4855" width="139" height="36" rx="8"/><text x="934" y="4873">失业产生的影响</text></g>
<g id="n-gr" class="y"><rect x="1086" y="4760" width="53" height="36" rx="8"/><text x="1097" y="4778">个人</text></g>
<g id="n-jt" class="y"><rect x="1086" y="4824" width="53" height="36" rx="8"/><text x="1097" y="4842">家庭</text></g>
<g id="n-sh" class="y"><rect x="1086" y="4887" width="53" height="36" rx="8"/><text x="1097" y="4905">社会</text></g>
<g id="n-jj" class="y"><rect x="1086" y="4950" width="155" height="36" rx="8"/><text x="1097" y="4968">经济（奥肯定律）</text></g>
<g id="n-dyfl" class="y"><rect x="958" y="5014" width="104" height="36" rx="8"/><text x="969" y="5032">定义、分类</text></g>
<g id="n-yy" class="y"><rect x="958" y="5077" width="51" height="36" rx="8"/><text x="969" y="5095">原因</text></g>
<g id="n-csyx" class="y"><rect x="958" y="5172" width="104" height="36" rx="8"/><text x="969" y="5190">产生的影响</text></g>
<g id="n-srfp" class="y"><rect x="1086" y="5141" width="87" height="36" rx="8"/><text x="1097" y="5159">收入分配</text></g>
<g id="n-zjcb" class="y"><rect x="1086" y="5204" width="87" height="36" rx="8"/><text x="1097" y="5222">增加成本</text></g>
<g id="n-flps"><rect x="1299" y="4935" width="388" height="68" rx="8" fill="#FDF1C6"/><text x="1313" y="4958" fill="#3F3608">通货膨胀和失业率的关系：菲利普斯曲线（反</text><text x="1313" y="4980" fill="#3F3608">向、交替）</text></g>
<g id="n-dy1" class="y"><rect x="804" y="5267" width="51" height="36" rx="8"/><text x="815" y="5285">定义</text></g>
<g id="n-jdhf" class="y"><rect x="802" y="5330" width="88" height="36" rx="8"/><text x="813" y="5348">阶段划分</text></g>
<g id="n-fl" class="y"><rect x="802" y="5393" width="55" height="36" rx="8"/><text x="813" y="5411">分类</text></g>
<g id="n-dy2" class="y"><rect x="793" y="5457" width="54" height="36" rx="8"/><text x="804" y="5475">定义</text></g>
<g id="n-hsfc" class="y"><rect x="793" y="5520" width="253" height="36" rx="8"/><text x="804" y="5538">经济增长核算方程（k、a、n）</text></g>
<g id="n-yy2" class="y"><rect x="793" y="5615" width="54" height="36" rx="8"/><text x="804" y="5633">原因</text></g>
<g id="n-dc" class="y"><rect x="793" y="5805" width="54" height="36" rx="8"/><text x="804" y="5823">对策</text></g>
<g id="n-zjyy" class="y"><rect x="871" y="5583" width="88" height="36" rx="8"/><text x="882" y="5601">直接原因</text></g>
<g id="n-gbyy" class="y"><rect x="871" y="5647" width="88" height="36" rx="8"/><text x="882" y="5665">根本原因</text></g>
<g id="n-zjld" class="y"><rect x="871" y="5710" width="122" height="36" rx="8"/><text x="882" y="5728">增加劳动供给</text></g>
<g id="n-cjzb" class="y"><rect x="871" y="5773" width="122" height="36" rx="8"/><text x="882" y="5791">促进资本形成</text></g>
<g id="n-glcx" class="y"><rect x="871" y="5836" width="122" height="36" rx="8"/><text x="882" y="5854">鼓励创新技术</text></g>
<g id="n-jlzd" class="y"><rect x="870" y="5899" width="122" height="36" rx="8"/><text x="881" y="5917">建立适当制度</text></g>

<g id="n-s4" class="l1"><rect x="476" y="6345" width="378" height="53" rx="8" fill="#1DB27A"/><text x="665" y="6371" text-anchor="middle" fill="#fff">国民收入的变动（宏观经济政策）</text></g>
<g id="n-mbzc" class="g"><rect x="878" y="5964" width="155" height="36" rx="8"/><text x="889" y="5982">宏观经济政策目标</text></g>
<g id="n-mb1" class="g"><rect x="1059" y="5964" width="376" height="36" rx="8"/><text x="1070" y="5982">充分就业、经济增长、国际收支平衡、稳定物价</text></g>
<g id="n-czzc2" class="g"><rect x="878" y="6143" width="88" height="36" rx="8"/><text x="889" y="6161">财政政策</text></g>
<g id="n-hbzc2" class="g"><rect x="878" y="6515" width="88" height="36" rx="8"/><text x="889" y="6533">货币政策</text></g>
<g id="n-zh" class="g"><rect x="878" y="6745" width="224" height="36" rx="8"/><text x="889" y="6763">财政政策和货币政策的组合</text></g>
<g id="n-zh1" class="g"><rect x="1126" y="6745" width="360" height="36" rx="8"/><text x="1137" y="6763">同增同减Y变，一增一减r变，变化方向看财政</text></g>
<g id="n-gj1" class="g"><rect x="990" y="6063" width="55" height="36" rx="8"/><text x="1001" y="6081">工具</text></g>
<g id="n-czxy" class="g"><rect x="990" y="6222" width="123" height="36" rx="8"/><text x="1001" y="6240">财政政策效应</text></g>
<g id="n-zfsr" class="g"><rect x="1067" y="6026" width="191" height="36" rx="8"/><text x="1078" y="6044">政府收入：税收、公债</text></g>
<g id="n-zfzc2" class="g"><rect x="1067" y="6090" width="361" height="58" rx="8"/><text x="1078" y="6108">政府支出：政府转移支付、政府购买、政府补</text><text x="1078" y="6130">贴、净利息支付</text></g>
<g id="n-isxl1" class="g"><rect x="1136" y="6175" width="103" height="36" rx="8"/><text x="1147" y="6193">IS曲线斜率</text></g>
<g id="n-lmxl1" class="g"><rect x="1136" y="6269" width="114" height="36" rx="8"/><text x="1147" y="6287">LM曲线斜率</text></g>
<g id="n-d1" class="g"><rect x="1263" y="6175" width="368" height="36" rx="8"/><text x="1274" y="6193">d：d越大，财政政策效应越小，挤出效应越大</text></g>
<g id="n-h1g" class="g"><rect x="1274" y="6238" width="368" height="36" rx="8"/><text x="1285" y="6256">h：h越小，财政政策效应越小，挤出效应越大</text></g>
<g id="n-k1g" class="g"><rect x="1274" y="6302" width="365" height="36" rx="8"/><text x="1285" y="6320">k：k越大，财政政策效应越小，挤出效应越大</text></g>
<g id="n-gj2" class="g"><rect x="990" y="6428" width="55" height="36" rx="8"/><text x="1001" y="6446">工具</text></g>
<g id="n-hbxy" class="g"><rect x="990" y="6602" width="123" height="36" rx="8"/><text x="1001" y="6620">货币政策效应</text></g>
<g id="n-gksc" class="g"><rect x="1067" y="6364" width="122" height="36" rx="8"/><text x="1078" y="6382">公开市场业务</text></g>
<g id="n-fdzb" class="g"><rect x="1067" y="6428" width="122" height="36" rx="8"/><text x="1078" y="6446">法定准备金率</text></g>
<g id="n-ztxl" class="g"><rect x="1067" y="6492" width="89" height="36" rx="8"/><text x="1078" y="6510">再贴现率</text></g>
<g id="n-isxl2" class="g"><rect x="1136" y="6554" width="103" height="36" rx="8"/><text x="1147" y="6572">IS曲线斜率</text></g>
<g id="n-lmxl2" class="g"><rect x="1136" y="6649" width="114" height="36" rx="8"/><text x="1147" y="6667">LM曲线斜率</text></g>
<g id="n-d2" class="g"><rect x="1263" y="6554" width="246" height="36" rx="8"/><text x="1274" y="6572">d：d越大，货币政策效应越大</text></g>
<g id="n-h2g" class="g"><rect x="1274" y="6618" width="244" height="36" rx="8"/><text x="1285" y="6636">h：h越小，货币政策效应越大</text></g>
<g id="n-k2g" class="g"><rect x="1274" y="6682" width="242" height="36" rx="8"/><text x="1285" y="6700">k：k越大，货币政策效应越大</text></g>

<g id="watermarks" class="wm">
<text x="360" y="730" transform="rotate(-32 360 730)">树图 shutu.cn</text>
<text x="360" y="1735" transform="rotate(-32 360 1735)">树图 shutu.cn</text>
<text x="360" y="2740" transform="rotate(-32 360 2740)">树图 shutu.cn</text>
<text x="360" y="3745" transform="rotate(-32 360 3745)">树图 shutu.cn</text>
<text x="360" y="4750" transform="rotate(-32 360 4750)">树图 shutu.cn</text>
<text x="360" y="5745" transform="rotate(-32 360 5745)">树图 shutu.cn</text>
<text x="360" y="6740" transform="rotate(-32 360 6740)">树图 shutu.cn</text>
<text x="1624" y="1700" transform="rotate(-32 1624 1700)">树图 shutu.cn</text>
<text x="1624" y="2700" transform="rotate(-32 1624 2700)">树图 shutu.cn</text>
<text x="1624" y="3700" transform="rotate(-32 1624 3700)">树图 shutu.cn</text>
<text x="1624" y="4700" transform="rotate(-32 1624 4700)">树图 shutu.cn</text>
<text x="1624" y="5700" transform="rotate(-32 1624 5700)">树图 shutu.cn</text>
<text x="1624" y="6700" transform="rotate(-32 1624 6700)">树图 shutu.cn</text>
</g>
</g>
</svg>
